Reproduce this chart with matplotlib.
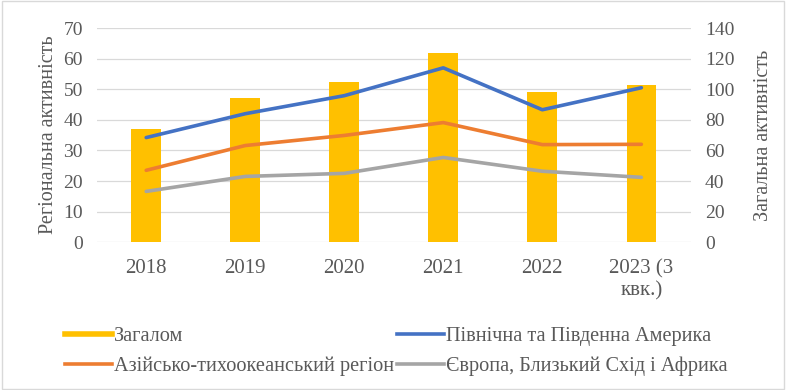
import matplotlib.pyplot as plt
import numpy as np

plt.rcParams['font.family'] = ['Liberation Serif', 'DejaVu Serif']

# Categories and series
years = ['2018', '2019', '2020', '2021', '2022', '2023 (3\nквк.)']
total = [74, 94, 105, 124, 98, 103]                 # right axis
americas = [34.2, 42.0, 47.9, 57.0, 43.3, 50.5]     # left axis
asia_pacific = [23.5, 31.6, 34.9, 39.1, 31.9, 32.0]
emea = [16.6, 21.5, 22.5, 27.7, 23.2, 21.2]

c_gold = '#FFC000'
c_blue = '#4472C4'
c_orange = '#ED7D31'
c_gray = '#A5A5A5'
txt = '#595959'

fig = plt.figure(figsize=(7.86, 3.90), dpi=100)
ax = fig.add_axes([0.123, 0.379, 0.756, 0.549])
ax2 = ax.twinx()

x = np.arange(len(years))

# bars on the secondary axis, drawn behind the lines
ax2.bar(x, total, width=0.3, color=c_gold, zorder=1)
ax2.set_ylim(0, 140)
ax2.set_yticks(range(0, 141, 20))

ax.set_zorder(ax2.get_zorder() + 1)
ax.patch.set_visible(False)
ax.plot(x, americas, color=c_blue, lw=2.6, solid_capstyle='round')
ax.plot(x, asia_pacific, color=c_orange, lw=2.6, solid_capstyle='round')
ax.plot(x, emea, color=c_gray, lw=2.6, solid_capstyle='round')
ax.set_ylim(0, 70)
ax.set_yticks(range(0, 71, 10))
ax.set_xlim(-0.5, len(years) - 0.5)
ax.set_xticks(x)
ax.set_xticklabels(years, linespacing=1.25)

# horizontal gridlines behind the bars
for v in range(0, 71, 10):
    ax2.axhline(v * 2, color='#D9D9D9', lw=0.9, zorder=0)

for a in (ax, ax2):
    for s in a.spines.values():
        s.set_visible(False)
    a.tick_params(length=0, labelsize=14, colors=txt)
ax.tick_params(axis='y', pad=10)
ax2.tick_params(axis='y', pad=10)
ax.tick_params(axis='x', pad=12, labelsize=15)

ax.set_ylabel('Регіональна активність', fontsize=14.5, color=txt, labelpad=4)
ax2.set_ylabel('Загальна активність', fontsize=14.5, color=txt, rotation=90, labelpad=14)

# legend below the plot
handles = [
    plt.Line2D([], [], color=c_gold, lw=4),
    plt.Line2D([], [], color=c_orange, lw=2.6),
    plt.Line2D([], [], color=c_blue, lw=2.6),
    plt.Line2D([], [], color=c_gray, lw=2.6),
]
labels = ['Загалом', 'Азійсько-тихоокеанський регіон',
          'Північна та Південна Америка', 'Європа, Близький Схід і Африка']
fig.legend(handles, labels, ncol=2, loc='upper left', bbox_to_anchor=(0.083, 0.163),
           frameon=False, fontsize=14.6, labelcolor=txt, handlelength=2.3,
           handletextpad=0.1, columnspacing=0.15, labelspacing=0.55,
           borderaxespad=0, borderpad=0)

# light chart border
fig.patches.append(plt.Rectangle((0.003, 0.003), 0.994, 0.994, transform=fig.transFigure,
                                 fill=False, edgecolor='#D9D9D9', lw=1))

fig.savefig('out.png', dpi=100)
